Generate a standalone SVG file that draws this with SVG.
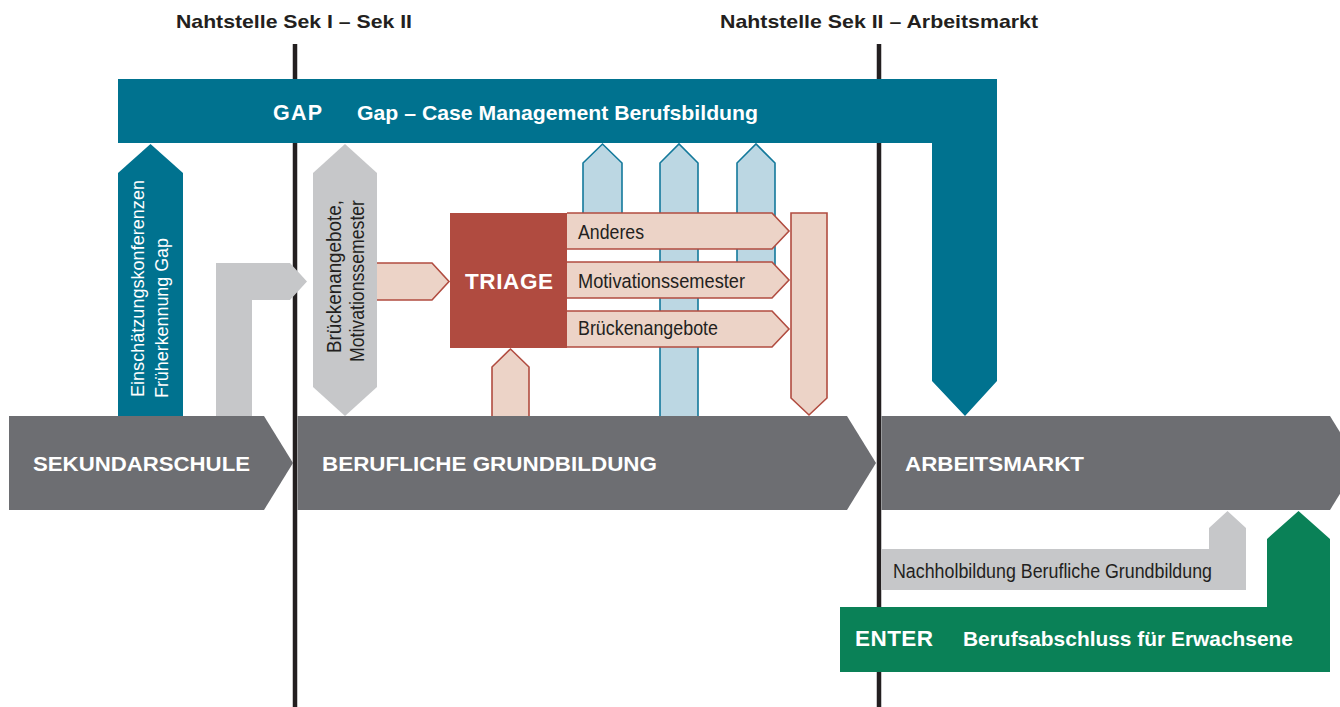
<svg xmlns="http://www.w3.org/2000/svg" width="1340" height="707" viewBox="0 0 1340 707">
<style>
.bold{font-family:"Liberation Sans",Arial,sans-serif;font-weight:bold;fill:#fff}
.hdr{font-family:"Liberation Sans",Arial,sans-serif;font-weight:bold;fill:#231f20;font-size:19px}
.cond{font-family:"Liberation Sans",Arial,sans-serif;font-size:20.5px;fill:#231f20}
.condw{font-family:"Liberation Sans",Arial,sans-serif;font-size:19px;fill:#fff}
.chev{fill:#6d6e72}
.lgrey{fill:#c6c7c9}
.teal{fill:#00728f}
.pink{fill:#ecd3c7;stroke:#b14c40;stroke-width:1.6}
.blue{fill:#bcd7e3;stroke:#13799b;stroke-width:1.6}
.line{stroke:#231f20;stroke-width:4.5}
</style>
<rect width="1340" height="707" fill="#fff"/>
<g id="headers">
<text class="hdr" x="176" y="28" textLength="236" lengthAdjust="spacingAndGlyphs">Nahtstelle Sek I – Sek II</text>
<text class="hdr" x="720" y="28" textLength="318" lengthAdjust="spacingAndGlyphs">Nahtstelle Sek II – Arbeitsmarkt</text>
</g>
<g id="seams">
<line class="line" x1="295" y1="44" x2="295" y2="707"/>
<line class="line" x1="879" y1="44" x2="879" y2="707"/>
</g>
<g id="connectors">
<g id="blue-arrows">
<path class="blue" d="M583,213 L583,163 L602.5,144 L622,163 L622,213"/>
<path class="blue" d="M660,416 L660,163 L679,144 L698,163 L698,416"/>
<path class="blue" d="M737,265 L737,163 L756,144 L775,163 L775,265"/>
</g>
<path id="grey-l" class="lgrey" d="M216,416 L216,263 L290,263 L307,281.5 L290,300 L252,300 L252,416 Z"/>
<path id="pink-in" class="pink" d="M377,263 L432,263 L449,281.5 L432,300 L377,300"/>
<path id="pink-up" class="pink" d="M492,416 L492,367 L510.5,349 L529,367 L529,416"/>
<path id="pink-down" class="pink" d="M791,213 L827,213 L827,398 L809,415 L791,398 Z"/>
</g>
<g id="gap">
<path class="teal" d="M118,79 L997,79 L997,381 L965,416 L932,381 L932,143 L118,143 Z"/>
<text class="bold" x="273" y="120" font-size="21.5" textLength="49" lengthAdjust="spacing">GAP</text>
<text class="bold" x="357" y="120" font-size="20.5" textLength="401" lengthAdjust="spacingAndGlyphs">Gap – Case Management Berufsbildung</text>
</g>
<g id="fruehkennung">
<path class="teal" d="M118,416 L118,173 L150.5,144 L183,173 L183,416 Z"/>
<text class="condw" transform="translate(144,397) rotate(-90)" textLength="217" lengthAdjust="spacingAndGlyphs">Einschätzungskonferenzen</text>
<text class="condw" transform="translate(168,398) rotate(-90)" textLength="160" lengthAdjust="spacingAndGlyphs">Früherkennung Gap</text>
</g>
<g id="brueckenangebote-hex">
<path class="lgrey" d="M313,173 L345,144 L377,173 L377,387 L345,416 L313,387 Z"/>
<text class="cond" transform="translate(341,353) rotate(-90)" textLength="153" lengthAdjust="spacingAndGlyphs">Brückenangebote,</text>
<text class="cond" transform="translate(364,362) rotate(-90)" textLength="162" lengthAdjust="spacingAndGlyphs">Motivationssemester</text>
</g>
<g id="triage">
<rect x="450" y="213" width="117" height="135" fill="#b04b40"/>
<text class="bold" x="465" y="289" font-size="22.5" textLength="88" lengthAdjust="spacing">TRIAGE</text>
</g>
<g id="opt-anderes">
<path class="pink" d="M567,213 L772,213 L789,231 L772,249 L567,249"/>
<text class="cond" x="578" y="239" textLength="66" lengthAdjust="spacingAndGlyphs">Anderes</text>
</g>
<g id="opt-motivation">
<path class="pink" d="M567,262 L772,262 L789,280 L772,298 L567,298"/>
<text class="cond" x="578" y="288" textLength="167" lengthAdjust="spacingAndGlyphs">Motivationssemester</text>
</g>
<g id="opt-bruecken">
<path class="pink" d="M567,311 L772,311 L789,329 L772,347 L567,347"/>
<text class="cond" x="578" y="335" textLength="140" lengthAdjust="spacingAndGlyphs">Brückenangebote</text>
</g>
<g id="sekundarschule">
<path class="chev" d="M9,416 L264,416 L293,463 L264,510 L9,510 Z"/>
<text class="bold" x="33" y="471" font-size="20" textLength="217" lengthAdjust="spacingAndGlyphs">SEKUNDARSCHULE</text>
</g>
<g id="grundbildung">
<path class="chev" d="M297.5,416 L847,416 L876,463 L847,510 L297.5,510 Z"/>
<text class="bold" x="322" y="471" font-size="20" textLength="335" lengthAdjust="spacingAndGlyphs">BERUFLICHE GRUNDBILDUNG</text>
</g>
<g id="arbeitsmarkt">
<path class="chev" d="M881.5,416 L1330,416 L1359,463 L1330,510 L881.5,510 Z"/>
<text class="bold" x="905" y="471" font-size="20" textLength="179" lengthAdjust="spacingAndGlyphs">ARBEITSMARKT</text>
</g>
<g id="nachholbildung">
<path class="lgrey" d="M881.5,549 L1209,549 L1209,528 L1227.5,511 L1246,528 L1246,590 L881.5,590 Z"/>
<text class="cond" x="893" y="578" textLength="319" lengthAdjust="spacingAndGlyphs">Nachholbildung Berufliche Grundbildung</text>
</g>
<g id="enter">
<path d="M840,607 L1267,607 L1267,539 L1298.5,511 L1330,539 L1330,672 L840,672 Z" fill="#0a8157"/>
<text class="bold" x="855" y="646" font-size="22.5" textLength="78" lengthAdjust="spacing">ENTER</text>
<text class="bold" x="963" y="646" font-size="20.5" textLength="330" lengthAdjust="spacingAndGlyphs">Berufsabschluss für Erwachsene</text>
</g>
</svg>
